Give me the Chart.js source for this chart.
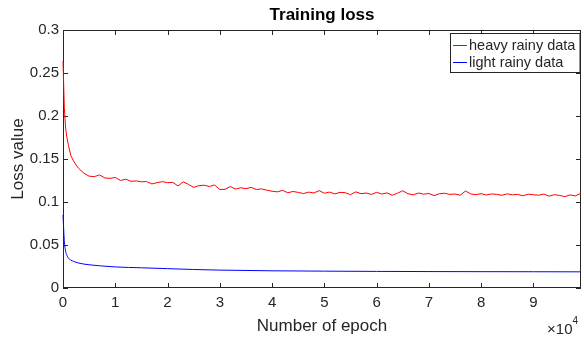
<!DOCTYPE html>
<html lang="en">
<head>
<meta charset="UTF-8">
<title>Training loss</title>
<script src="https://cdn.jsdelivr.net/npm/chart.js@4"></script>
<style>
    body { margin: 0; background: #fff; }
    .wrap { width: 584px; height: 339px; position: relative; }
</style>
</head>
<body>
<div class="wrap"><canvas id="lossChart"></canvas></div>
<script>
// epochs sampled for the red curve
const heavyEpochs = [0, 250, 500, 750, 1000, 1500, 2000, 2500, 3000, 4000,
    5000, 6000, 7000, 8000, 9000, 10000, 11000, 12000, 13000, 14000,
    15000, 16000, 17000, 18000, 19000, 20000, 21000, 22000, 23000, 24000,
    25000, 26000, 27000, 28000, 29000, 30000, 31000, 32000, 33000, 34000,
    35000, 36000, 37000, 38000, 39000, 40000, 41000, 42000, 43000, 44000,
    45000, 46000, 47000, 48000, 49000, 50000, 51000, 52000, 53000, 54000,
    55000, 56000, 57000, 58000, 59000, 60000, 61000, 62000, 63000, 64000,
    65000, 66000, 67000, 68000, 69000, 70000, 71000, 72000, 73000, 74000,
    75000, 76000, 77000, 78000, 79000, 80000, 81000, 82000, 83000, 84000,
    85000, 86000, 87000, 88000, 89000, 90000, 91000, 92000, 93000, 94000,
    95000, 96000, 97000, 98000, 99000];
const heavyLoss = [0.264, 0.21, 0.186, 0.175, 0.167, 0.154, 0.148, 0.143, 0.139, 0.1335,
    0.130, 0.1295, 0.1315, 0.128, 0.1275, 0.1285, 0.125, 0.1265, 0.124, 0.1245,
    0.1235, 0.1238, 0.121, 0.1225, 0.1237, 0.1225, 0.1228, 0.1187, 0.1234, 0.1205,
    0.117, 0.119, 0.1195, 0.118, 0.1198, 0.1145, 0.1147, 0.118, 0.115, 0.1165,
    0.1155, 0.117, 0.1145, 0.1152, 0.1138, 0.1125, 0.1118, 0.1135, 0.1108, 0.1122,
    0.1112, 0.1098, 0.1115, 0.1105, 0.1132, 0.1102, 0.1115, 0.1094, 0.1112, 0.1108,
    0.1085, 0.1118, 0.1097, 0.1104, 0.1088, 0.1112, 0.1093, 0.1106, 0.1079, 0.1102,
    0.1131, 0.1096, 0.1083, 0.1105, 0.1091, 0.1099, 0.1074, 0.1096, 0.1102, 0.1088,
    0.1093, 0.1079, 0.1128, 0.1094, 0.1085, 0.1097, 0.1082, 0.1094, 0.1088, 0.1078,
    0.1095, 0.1083, 0.1089, 0.1072, 0.1091, 0.1084, 0.1079, 0.1092, 0.1068, 0.1085,
    0.1077, 0.1062, 0.1083, 0.1071, 0.1098];

// blue curve is smooth, fewer samples needed
const lightEpochs = [0, 250, 500, 750, 1000, 1500, 2000, 3000, 4000, 5000,
    7000, 10000, 15000, 20000, 25000, 30000, 40000, 50000, 60000, 70000,
    80000, 90000, 99000];
const lightLoss = [0.085, 0.055, 0.043, 0.038, 0.035, 0.0325, 0.031, 0.029, 0.0278, 0.027,
    0.0258, 0.0245, 0.0235, 0.0225, 0.0215, 0.0208, 0.0200, 0.0196, 0.0193, 0.0191,
    0.0190, 0.0189, 0.0188];

const seriesNames = ['heavy rainy data', 'light rainy data'];
const seriesColors = ['#ff0000', '#0000ff'];
const xTickValues = [0, 10000, 20000, 30000, 40000, 50000, 60000, 70000, 80000, 90000];
const xTickLabels = ['0', '1', '2', '3', '4', '5', '6', '7', '8', '9'];
const yTickValues = [0, 0.05, 0.1, 0.15, 0.2, 0.25, 0.3];
const yTickLabels = ['0', '0.05', '0.1', '0.15', '0.2', '0.25', '0.3'];

const textColor = '#262626';
const fontFamily = '"Liberation Sans", Arial, Helvetica, sans-serif';

// MATLAB style box: axes outline + inward ticks on all four sides (under the lines),
// then legend and the x10^4 exponent on top
const matlabBox = {
    id: 'matlabBox',
    beforeDatasetsDraw(chart) {
        const ctx = chart.ctx;
        const a = chart.chartArea;
        const xs = chart.scales.x, ys = chart.scales.y;
        ctx.save();
        ctx.strokeStyle = textColor;
        ctx.lineWidth = 1;
        ctx.strokeRect(a.left + 0.5, a.top + 0.5, a.right - a.left - 1, a.bottom - a.top - 1);

        const len = 5;
        ctx.beginPath();
        xs.ticks.forEach(t => {
            const px = Math.round(xs.getPixelForValue(t.value)) + 0.5;
            ctx.moveTo(px, a.bottom); ctx.lineTo(px, a.bottom - len);
            ctx.moveTo(px, a.top); ctx.lineTo(px, a.top + len);
        });
        ys.ticks.forEach(t => {
            const py = Math.round(ys.getPixelForValue(t.value)) + 0.5;
            ctx.moveTo(a.left, py); ctx.lineTo(a.left + len, py);
            ctx.moveTo(a.right, py); ctx.lineTo(a.right - len, py);
        });
        ctx.stroke();
        ctx.restore();
    },
    afterDraw(chart) {
        const ctx = chart.ctx;
        ctx.save();
        ctx.fillStyle = textColor;
        ctx.textBaseline = 'alphabetic';
        ctx.textAlign = 'right';
        ctx.font = '10px ' + fontFamily;
        ctx.fillText('4', 578, 324);
        ctx.font = '15px ' + fontFamily;
        ctx.fillText('\u00d710', 572.5, 334);

        // legend
        const lx = 450.5, ly = 33.5, lw = 129.5, lh = 39;
        ctx.fillStyle = '#fff';
        ctx.fillRect(lx, ly, lw, lh);
        ctx.strokeStyle = textColor;
        ctx.lineWidth = 1;
        ctx.strokeRect(lx, ly, lw, lh);
        ctx.font = '14.5px ' + fontFamily;
        ctx.textAlign = 'left';
        ctx.textBaseline = 'middle';
        chart.data.datasets.forEach((ds, i) => {
            const yy = 45.5 + i * 17;
            ctx.beginPath();
            ctx.strokeStyle = seriesColors[i];
            ctx.moveTo(453, yy);
            ctx.lineTo(467, yy);
            ctx.stroke();
            ctx.fillStyle = textColor;
            ctx.fillText(ds.label, 469, yy);
        });
        ctx.restore();
    }
};

new Chart(document.getElementById('lossChart'), {
    type: 'line',
    data: {
        datasets: [{
            label: seriesNames[0],
            data: heavyEpochs.map((e, i) => ({ x: e, y: heavyLoss[i] })),
            borderColor: seriesColors[0],
            borderWidth: 1,
            pointRadius: 0,
            tension: 0,
            clip: 2
        }, {
            label: seriesNames[1],
            data: lightEpochs.map((e, i) => ({ x: e, y: lightLoss[i] })),
            borderColor: seriesColors[1],
            borderWidth: 1,
            pointRadius: 0,
            cubicInterpolationMode: 'monotone',
            clip: 2
        }]
    },
    options: {
        responsive: true,
        maintainAspectRatio: false,
        animation: false,
        layout: { padding: { left: 0, right: 3, top: 0, bottom: 0 } },
        plugins: {
            legend: { display: false },
            tooltip: { enabled: false },
            title: {
                display: true,
                text: 'Training loss',
                fullSize: false,
                color: '#000',
                font: { family: fontFamily, size: 17, weight: 'bold' },
                padding: { top: 5, bottom: 4.6 }
            }
        },
        scales: {
            x: {
                type: 'linear',
                min: 0,
                max: 99100,
                afterBuildTicks: s => { s.ticks = xTickValues.map(v => ({ value: v })); },
                afterFit: s => { s.height = 51; },
                grid: { display: false, drawTicks: false },
                border: { display: false },
                ticks: {
                    autoSkip: false,
                    maxRotation: 0,
                    padding: 6,
                    color: textColor,
                    font: { family: fontFamily, size: 15 },
                    callback: (v, i) => xTickLabels[i]
                },
                title: {
                    display: true,
                    text: 'Number of epoch',
                    color: textColor,
                    font: { family: fontFamily, size: 17 },
                    padding: { top: 0, bottom: 2 }
                }
            },
            y: {
                min: 0,
                max: 0.3,
                afterBuildTicks: s => { s.ticks = yTickValues.map(v => ({ value: v })); },
                afterFit: s => { s.width = 63; },
                grid: { display: false, drawTicks: false },
                border: { display: false },
                ticks: {
                    autoSkip: false,
                    padding: 4,
                    color: textColor,
                    font: { family: fontFamily, size: 15 },
                    callback: (v, i) => yTickLabels[i]
                },
                title: {
                    display: true,
                    text: 'Loss value',
                    color: textColor,
                    font: { family: fontFamily, size: 17 },
                    padding: { top: 8, bottom: 0 }
                }
            }
        }
    },
    plugins: [matlabBox]
});
</script>
</body>
</html>
